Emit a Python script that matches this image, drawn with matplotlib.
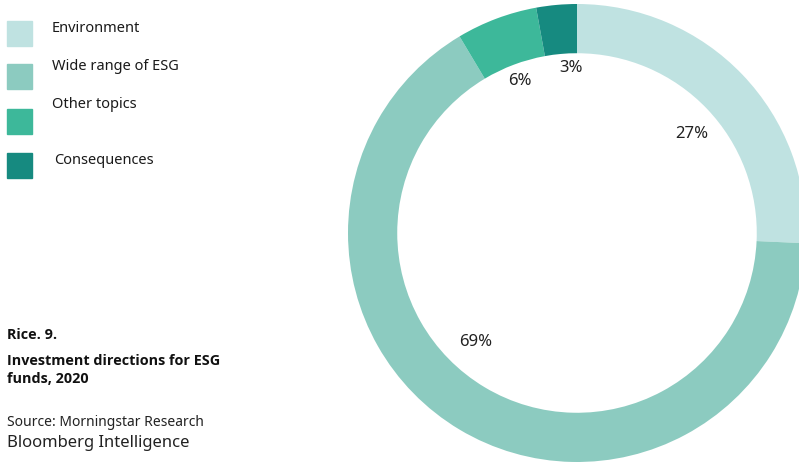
import numpy as np
import matplotlib.pyplot as plt
from matplotlib.patches import Rectangle

categories = ['Environment', 'Wide range of ESG', 'Other topics', 'Consequences']
shares = [27, 69, 6, 3]
share_labels = ['27%', '69%', '6%', '3%']
colors = ['#bfe2e1', '#8ccbc0', '#3db89a', '#168a80']

plt.rcParams['font.family'] = ['Noto Sans', 'DejaVu Sans']

W, H = 799, 462
fig = plt.figure(figsize=(W / 100, H / 100), dpi=100)

# donut: centre (577, 233) px, outer radius 229 px
cx, cy, R = 577, 233, 229
ax = fig.add_axes([(cx - R) / W, (H - cy - R) / H, 2 * R / W, 2 * R / H])
wedges, _ = ax.pie(shares, colors=colors, startangle=90, counterclock=False,
                   radius=1, wedgeprops=dict(width=0.215, linewidth=0))
ax.set_xlim(-1, 1)
ax.set_ylim(-1, 1)
ax.set_aspect('equal')
ax.axis('off')

# percentage labels inside the ring
label_shift = [-3, -12, 0, -3]   # degrees
label_dist = [0.66, 0.65, 0.71, 0.72]
for w, txt, sh, d in zip(wedges, share_labels, label_shift, label_dist):
    a = np.deg2rad((w.theta1 + w.theta2) / 2 + sh)
    ax.text(d * np.cos(a), d * np.sin(a), txt, ha='center', va='center',
            fontsize=12, color='#222222')

# legend on the left
sq_top = [21, 64, 109, 153]
txt_y = [29, 67, 105, 160]
txt_x = [52, 52, 52, 54]
for name, col, t, ty, tx in zip(categories, colors, sq_top, txt_y, txt_x):
    fig.patches.append(Rectangle((7 / W, 1 - (t + 25) / H), 25 / W, 25 / H,
                                 transform=fig.transFigure, color=col))
    fig.text(tx / W, 1 - ty / H, name, ha='left', va='center',
             fontsize=10.5, color='#1a1a1a')

# caption
bold = dict(family=['Open Sans', 'DejaVu Sans'], fontweight='bold',
            fontsize=10.4, color='#111111')
fig.text(7 / W, 1 - 335 / H, 'Rice. 9.', va='center', **bold)
fig.text(7 / W, 1 - 370 / H, 'Investment directions for ESG\nfunds, 2020',
         va='center', linespacing=1.35, **bold)
fig.text(7 / W, 1 - 422 / H, 'Source: Morningstar Research', fontsize=10,
         va='center', color='#222222')
fig.text(7 / W, 1 - 443 / H, 'Bloomberg Intelligence', fontsize=12,
         va='center', color='#222222')

fig.savefig('out.png', dpi=100)
